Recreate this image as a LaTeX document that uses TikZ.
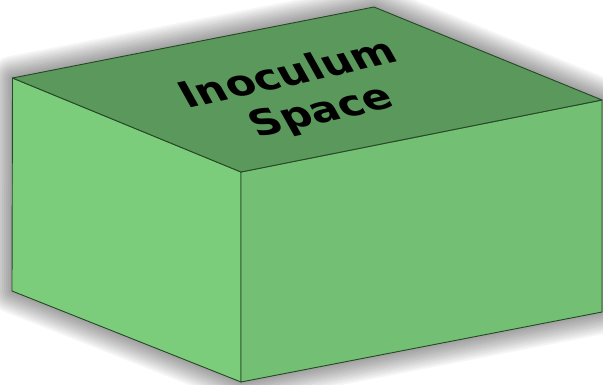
\documentclass[tikz,border=0pt]{standalone}
\usepackage{fontspec}
\setsansfont{DejaVu Sans}
\usepackage{tikz}
\definecolor{topgreen}{RGB}{91,152,91}
\definecolor{leftgreen}{RGB}{123,205,123}
\definecolor{rightgreen}{RGB}{115,191,115}
\definecolor{edgegreen}{RGB}{38,72,38}

\begin{document}
\begin{tikzpicture}[x=1pt,y=-1pt,
  face/.style={draw=edgegreen,line width=0.9pt,line join=round},
  haze/.style={black,opacity=0.04,line join=round},
  lbl/.style={font=\fontsize{37}{40}\selectfont\sffamily\bfseries,inner sep=0pt,anchor=base,
    rotate=12.5,xslant=-0.3,xscale=1.14}]
\useasboundingbox(0,0)rectangle(603,384);
\clip(0,0)rectangle(603,384);
\coordinate(L)at(12.5,78);\coordinate(T)at(374,7);\coordinate(R)at(602,100);\coordinate(F)at(241,172);
\coordinate(BL)at(12,291);\coordinate(BF)at(241,382);\coordinate(BR)at(602,312);
% soft shadow under the box
\begin{scope}[shift={(-2,19)}]
\foreach \w in {44,40,...,4}
  \filldraw[haze,line width=\w pt](L)--(T)--(R)--(BR)--(BF)--(BL)--cycle;
\end{scope}
% faces
\filldraw[face,fill=leftgreen](L)--(F)--(BF)--(BL)--cycle;
\filldraw[face,fill=rightgreen](F)--(R)--(BR)--(BF)--cycle;
\filldraw[face,fill=topgreen](L)--(T)--(R)--(F)--cycle;
\node[lbl](inoc)at(294,85){Inoculum};
\node[lbl](spc)at(327,122){Space};
\end{tikzpicture}
\end{document}
